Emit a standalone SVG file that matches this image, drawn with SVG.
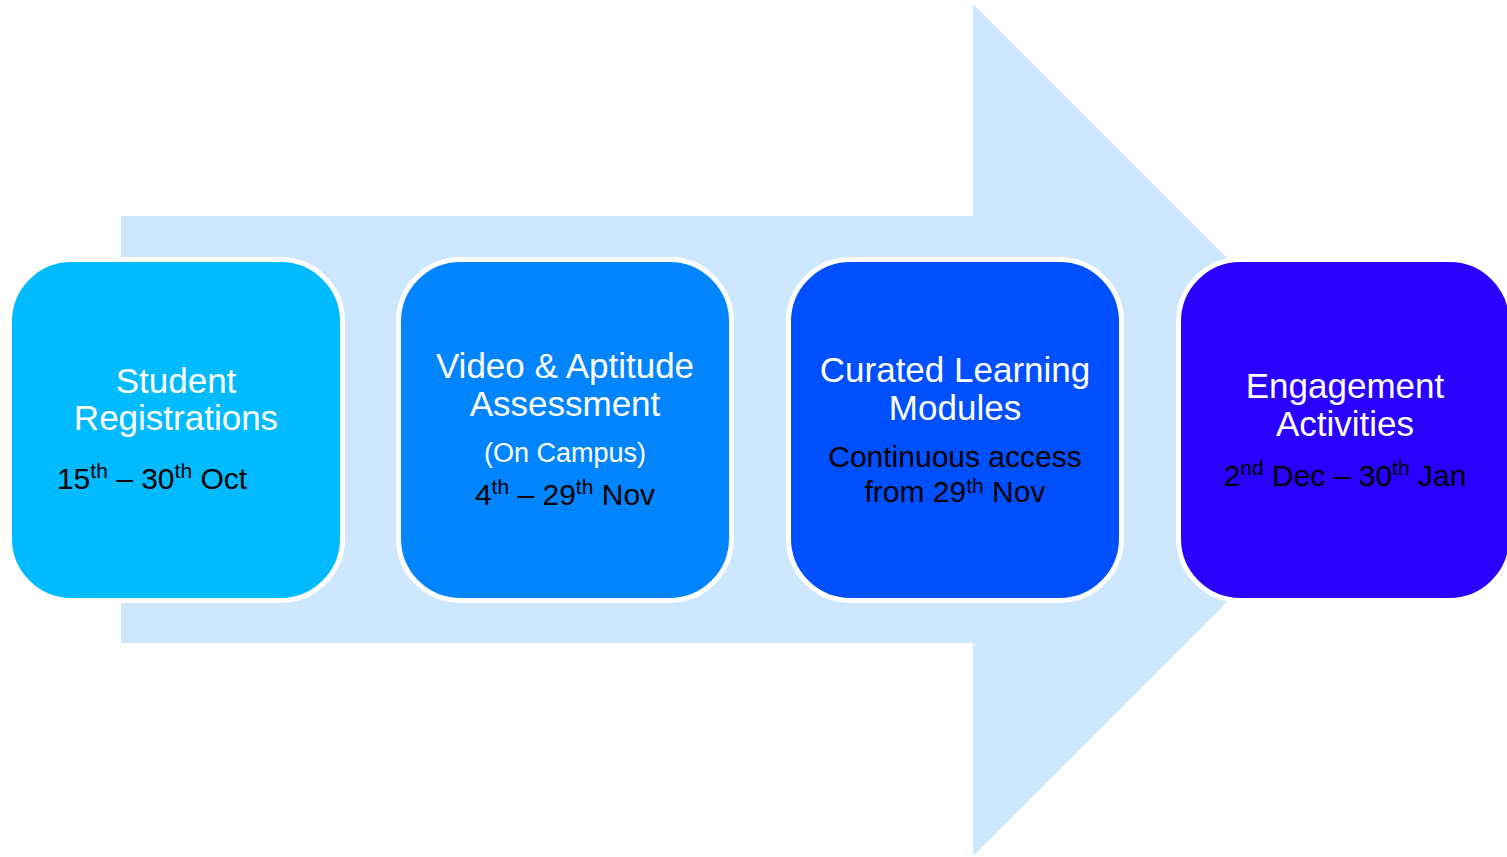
<svg xmlns="http://www.w3.org/2000/svg" width="1507" height="857" viewBox="0 0 1507 857">
<style>
.box{stroke:#FFFFFF;stroke-width:5}
.t{font-family:"Liberation Sans",Arial,sans-serif;text-anchor:middle;fill:#FFFFFF;font-size:35px}
.s{font-family:"Liberation Sans",Arial,sans-serif;text-anchor:middle;fill:#FFFFFF;font-size:27px}
.d{font-family:"Liberation Sans",Arial,sans-serif;text-anchor:middle;fill:#000000;font-size:30px}
.sup{font-size:21px}
</style>
<rect width="1507" height="857" fill="#FFFFFF"/>
<g id="connectors">
<path d="M121,216 H973 V4 L1399,430 L973,856 V643 H121 Z" fill="#CDE7FE"/>
</g>
<g id="node1">
<rect class="box" x="9.5" y="259.5" width="333" height="341" rx="62" fill="#00BBFF"/>
<text class="t" x="176" y="393">Student</text>
<text class="t" x="176" y="430">Registrations</text>
<text class="d" x="152" y="489">15<tspan class="sup" dy="-11">th</tspan><tspan dy="11"> – 30</tspan><tspan class="sup" dy="-11">th</tspan><tspan dy="11"> Oct</tspan></text>
</g>
<g id="node2">
<rect class="box" x="398.5" y="259.5" width="333" height="341" rx="62" fill="#0085FF"/>
<text class="t" x="565" y="378">Video &amp; Aptitude</text>
<text class="t" x="565" y="416">Assessment</text>
<text class="s" x="565" y="462">(On Campus)</text>
<text class="d" x="565" y="505">4<tspan class="sup" dy="-11">th</tspan><tspan dy="11"> – 29</tspan><tspan class="sup" dy="-11">th</tspan><tspan dy="11"> Nov</tspan></text>
</g>
<g id="node3">
<rect class="box" x="788.5" y="259.5" width="333" height="341" rx="62" fill="#0050FF"/>
<text class="t" x="955" y="382">Curated Learning</text>
<text class="t" x="955" y="420">Modules</text>
<text class="d" x="955" y="467">Continuous access</text>
<text class="d" x="955" y="502">from 29<tspan class="sup" dy="-9">th</tspan><tspan dy="9"> Nov</tspan></text>
</g>
<g id="node4">
<rect class="box" x="1178.5" y="259.5" width="333" height="341" rx="62" fill="#2A00FF"/>
<text class="t" x="1345" y="398">Engagement</text>
<text class="t" x="1345" y="436">Activities</text>
<text class="d" x="1345" y="486">2<tspan class="sup" dy="-11">nd</tspan><tspan dy="11"> Dec – 30</tspan><tspan class="sup" dy="-11">th</tspan><tspan dy="11"> Jan</tspan></text>
</g>
</svg>
